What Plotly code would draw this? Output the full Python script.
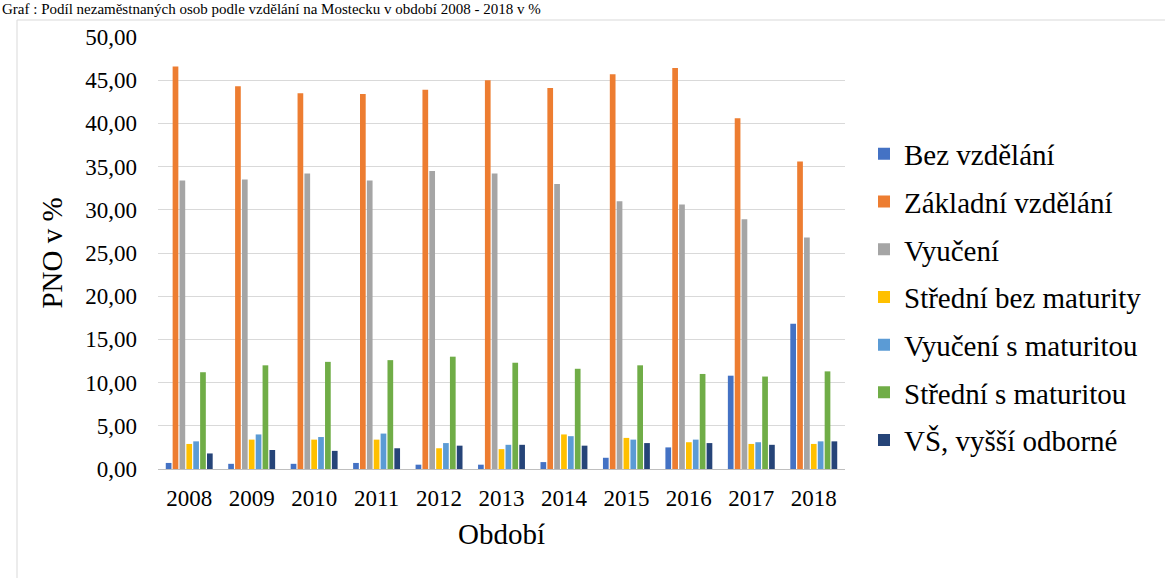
import plotly.graph_objects as go

years = ["2008", "2009", "2010", "2011", "2012", "2013", "2014", "2015", "2016", "2017", "2018"]
bez_vzdelani = [0.7, 0.6, 0.6, 0.7, 0.5, 0.5, 0.8, 1.3, 2.5, 10.8, 16.8]
zakladni = [46.6, 44.3, 43.5, 43.4, 43.9, 45.0, 44.1, 45.7, 46.4, 40.6, 35.6]
vyuceni = [33.4, 33.5, 34.2, 33.4, 34.5, 34.2, 33.0, 31.0, 30.6, 28.9, 26.8]
stredni_bez_mat = [2.9, 3.4, 3.4, 3.4, 2.4, 2.3, 4.0, 3.6, 3.1, 2.9, 2.9]
vyuceni_s_mat = [3.2, 4.0, 3.7, 4.1, 3.0, 2.8, 3.8, 3.4, 3.4, 3.1, 3.2]
stredni_s_mat = [11.2, 12.0, 12.4, 12.6, 13.0, 12.3, 11.6, 12.0, 11.0, 10.7, 11.3]
vs_vyssi = [1.8, 2.2, 2.1, 2.4, 2.7, 2.8, 2.7, 3.0, 3.0, 2.8, 3.2]

series_names = ["Bez vzdělání", "Základní vzdělání", "Vyučení", "Střední bez maturity",
                "Vyučení s maturitou", "Střední s maturitou", "VŠ, vyšší odborné"]
series_values = [bez_vzdelani, zakladni, vyuceni, stredni_bez_mat, vyuceni_s_mat, stredni_s_mat, vs_vyssi]
colors = ["#4472C4", "#ED7D31", "#A5A5A5", "#FFC000", "#5B9BD5", "#70AD47", "#264478"]
y_ticks = [0, 5, 10, 15, 20, 25, 30, 35, 40, 45, 50]
title_text = "Graf : Podíl nezaměstnaných osob podle vzdělání na Mostecku v období 2008 - 2018 v %"

font_family = "Liberation Serif, Times New Roman, serif"

# plot area in page pixels (body margin removed below)
L, R, T, B = 158, 845, 37, 469
W, H = 1165, 578
PW, PH = R - L, B - T

fig = go.Figure()
for i, (name, vals, col) in enumerate(zip(series_names, series_values, colors)):
    fig.add_trace(go.Bar(
        x=years, y=vals, name=name, legendgroup=f"g{i}",
        marker=dict(color=col, line=dict(width=0)),
    ))

fig.update_layout(
    width=W, height=H,
    margin=dict(l=L, r=W - R, t=T, b=H - B, pad=0),
    paper_bgcolor="white", plot_bgcolor="white",
    font=dict(family=font_family, color="#000000", size=23),
    barmode="group", bargap=0.23, bargroupgap=0.17,
    separators=", ",
    legend=dict(
        x=1 + 19 / PW, xanchor="left", y=0.5 - 44 / PH, yanchor="middle",
        font=dict(family=font_family, size=29, color="#000000"),
        tracegroupgap=7, itemwidth=30,
    ),
    xaxis=dict(
        title=dict(text="Období", font=dict(size=29, family=font_family), standoff=14),
        showline=True, linecolor="#BFBFBF", linewidth=1,
        ticks="", tickfont=dict(size=23), ticklabelstandoff=8,
    ),
    yaxis=dict(
        title=dict(text="PNO v %", font=dict(size=29, family=font_family), standoff=14),
        range=[0, 50], tickvals=y_ticks, tickformat=".2f",
        showgrid=True, gridcolor="#D9D9D9", gridwidth=1,
        zeroline=False, ticks="", tickfont=dict(size=23), ticklabelstandoff=20,
    ),
    shapes=[dict(
        type="rect", xref="paper", yref="paper",
        x0=(17 - L) / PW, x1=1.6, y0=-0.5, y1=1 + (T - 20) / PH,
        line=dict(color="#D9D9D9", width=1), fillcolor="rgba(0,0,0,0)", layer="below",
    )],
    annotations=[dict(
        text=title_text,
        xref="paper", yref="paper", x=(0 - L) / PW, y=1 + (T - 9) / PH,
        xanchor="left", yanchor="middle", showarrow=False,
        font=dict(family=font_family, size=15, color="#000000"),
    )],
)

fig.write_html("out.html", config={"displayModeBar": False},
               post_script="document.body.style.margin='0';")
